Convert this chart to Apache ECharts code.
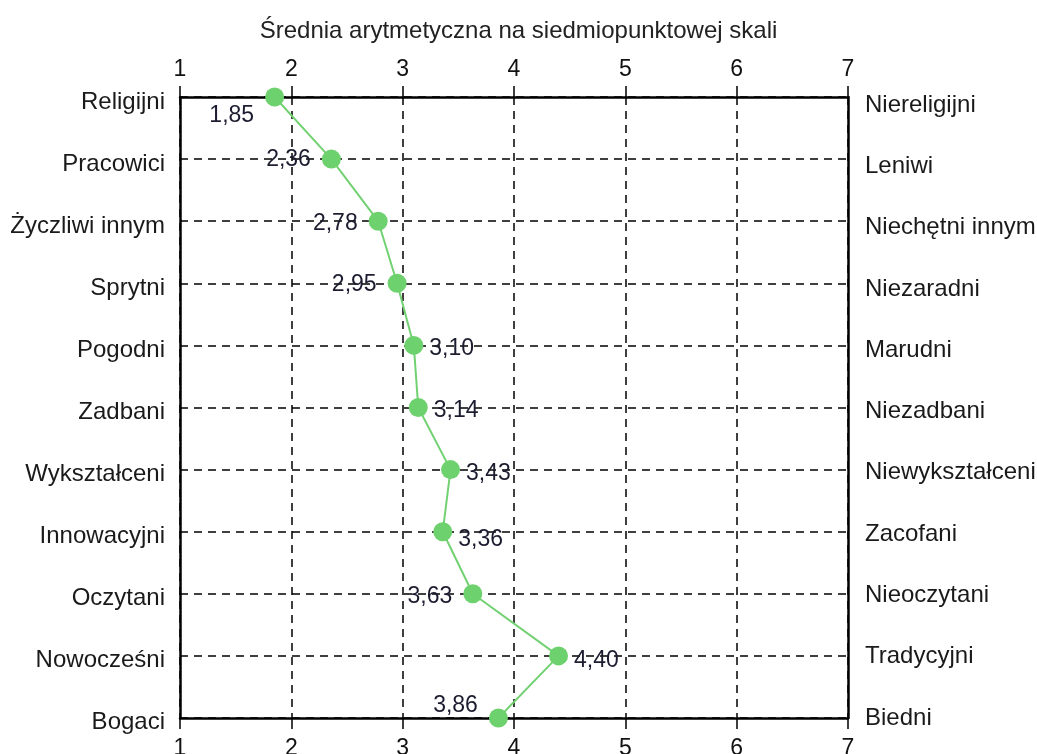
<!DOCTYPE html>
<html>
<head>
<meta charset="utf-8">
<script src="https://cdn.jsdelivr.net/npm/echarts@6/dist/echarts.min.js"></script>
<style>
html,body{margin:0;padding:0;background:#fff;}
#c{width:1037px;height:754px;}
</style>
</head>
<body>
<div id="c"></div>
<script>
const title = 'Średnia arytmetyczna na siedmiopunktowej skali';
const leftCategories = ['Religijni','Pracowici','Życzliwi innym','Sprytni','Pogodni','Zadbani','Wykształceni','Innowacyjni','Oczytani','Nowocześni','Bogaci'];
const rightCategories = ['Niereligijni','Leniwi','Niechętni innym','Niezaradni','Marudni','Niezadbani','Niewykształceni','Zacofani','Nieoczytani','Tradycyjni','Biedni'];
const means = [1.85, 2.36, 2.78, 2.95, 3.10, 3.14, 3.43, 3.36, 3.63, 4.40, 3.86];
const scaleMin = 1, scaleMax = 7;

// label placement per point (style only)
const labelSide = ['left','left','left','left','right','right','right','right','left','right','left'];
const labelShift = [[0,19],[0,1],[0,2],[0,1],[0,3],[0,3],[0,4],[0,8],[0,3],[0,5],[0,-12]];

const FONT = 'Liberation Sans, Arial, sans-serif';
const chart = echarts.init(document.getElementById('c'));
const gridLine = {show:true, lineStyle:{color:'#000', width:1.5, type:[8,6]}};
const axisBase = {
  type:'value', min:scaleMin, max:scaleMax, interval:1,
  axisLine:{show:true, lineStyle:{color:'#000', width:2.5}},
  axisTick:{show:true, inside:false, length:11, lineStyle:{color:'#000', width:1.5}},
  splitLine:{show:false}
};
const labelAxis = (gridIndex, data, position, margin) => ({
  type:'category', gridIndex, data, inverse:true, boundaryGap:false, position,
  axisLine:{show:false}, axisTick:{show:false}, splitLine:{show:false},
  axisLabel:{margin, fontFamily:FONT, fontSize:24, color:'#1a1a1a'}
});
chart.setOption({
  animation:false,
  title:{text:title, left:'center', top:14, textStyle:{fontFamily:FONT, fontSize:24, fontWeight:'normal', color:'#222'}},
  grid:[
    {left:180, right:189, top:97, bottom:36, containLabel:false, outerBoundsMode:'none'},
    {left:180, right:189, top:105, bottom:36, containLabel:false, outerBoundsMode:'none'},
    {left:180, right:189, top:102, bottom:32, containLabel:false, outerBoundsMode:'none'}
  ],
  xAxis:[
    Object.assign({}, axisBase, {gridIndex:0, position:'top', axisLabel:{margin:16, fontFamily:FONT, fontSize:23, color:'#111'}, splitLine:gridLine}),
    Object.assign({}, axisBase, {gridIndex:0, position:'bottom', axisLabel:{margin:19, fontFamily:FONT, fontSize:23, color:'#111'}}),
    {type:'value', gridIndex:1, min:scaleMin, max:scaleMax, show:false},
    {type:'value', gridIndex:2, min:scaleMin, max:scaleMax, show:false}
  ],
  yAxis:[
    {type:'category', gridIndex:0, data:leftCategories, inverse:true, boundaryGap:false, position:'left',
     axisLine:{show:true, lineStyle:{color:'#000', width:2.5}}, axisTick:{show:false},
     axisLabel:{show:false}, splitLine:gridLine},
    {type:'category', gridIndex:0, data:rightCategories, inverse:true, boundaryGap:false, position:'right',
     axisLine:{show:true, lineStyle:{color:'#000', width:2.5}}, axisTick:{show:false},
     axisLabel:{show:false}, splitLine:{show:false}},
    labelAxis(1, rightCategories, 'right', 17),
    labelAxis(2, leftCategories, 'left', 15)
  ],
  series:[{
    type:'line', xAxisIndex:0, yAxisIndex:0,
    data: means.map((v,i)=>({
      value:[v, leftCategories[i]],
      label:{position:labelSide[i], offset:labelShift[i], distance: labelSide[i]==='left'?11:6}
    })),
    symbol:'circle', symbolSize:19,
    itemStyle:{color:'#6dd16d'},
    lineStyle:{color:'#72d172', width:2},
    label:{show:true, fontFamily:FONT, fontSize:23, color:'#1c1c30',
      formatter:p=>p.value[0].toFixed(2).replace('.',',')},
    z:5
  }]
});
</script>
</body>
</html>
